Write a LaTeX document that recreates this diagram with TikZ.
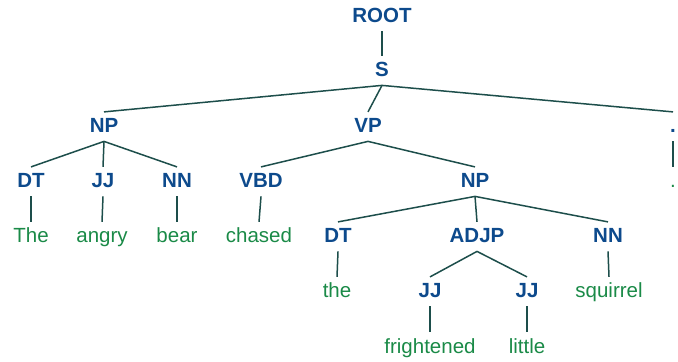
\documentclass[tikz,border=0pt]{standalone}
\usepackage{fontspec}
\setmainfont{Liberation Sans}
\usepackage{tikz}

\definecolor{labelblue}{HTML}{0D4A8C}
\definecolor{wordgreen}{HTML}{1A8A47}
\definecolor{edgeteal}{HTML}{1D4E4B}

\begin{document}
\begin{tikzpicture}[x=0.5pt, y=-0.5pt,
	every node/.style={anchor=base, inner xsep=0pt, inner ysep=3pt,
		text height=7.35pt, text depth=1pt, font=\fontsize{10.25}{12}\selectfont},
	cat node/.style={text=labelblue, font=\fontsize{10.25}{12}\selectfont\bfseries},
	word node/.style={text=wordgreen},
	tree edge/.style={draw=edgeteal, line width=0.75pt}]

	\useasboundingbox (0,0) rectangle (678,362);

	% categories
	\node[cat node] (root) at (382,23) {ROOT};
	\node[cat node] (s) at (382,77) {S};
	\node[cat node] (np) at (104,133) {NP};
	\node[cat node] (vp) at (368,133) {VP};
	\node[cat node] (punct) at (673,133) {.};
	\node[cat node] (dt) at (31,188) {DT};
	\node[cat node] (jj) at (103,188) {JJ};
	\node[cat node] (nn) at (177,188) {NN};
	\node[cat node] (vbd) at (261,188) {VBD};
	\node[cat node] (npobj) at (475,188) {NP};
	\node[cat node] (dtobj) at (338,243) {DT};
	\node[cat node] (adjp) at (477,243) {ADJP};
	\node[cat node] (nnobj) at (608,243) {NN};
	\node[cat node] (jja) at (430,298) {JJ};
	\node[cat node] (jjb) at (527,298) {JJ};

	% words
	\node[word node] (w1) at (31,243) {The};
	\node[word node] (w2) at (102,243) {angry};
	\node[word node] (w3) at (177,243) {bear};
	\node[word node] (w4) at (259,243) {chased};
	\node[word node] (w5) at (337,298) {the};
	\node[word node] (w6) at (430,353) {frightened};
	\node[word node] (w7) at (527,353) {little};
	\node[word node] (w8) at (609,298) {squirrel};
	\node[word node] (w9) at (673,188) {.};

	\path[tree edge]
	  (root.south) edge (s.north)
	  (s.south) edge (np.north)
	  (s.south) edge (vp.north)
	  (s.south) edge (punct.north)
	  (np.south) edge (dt.north)
	  (np.south) edge (jj.north)
	  (np.south) edge (nn.north)
	  (vp.south) edge (vbd.north)
	  (vp.south) edge (npobj.north)
	  (npobj.south) edge (dtobj.north)
	  (npobj.south) edge (adjp.north)
	  (npobj.south) edge (nnobj.north)
	  (adjp.south) edge (jja.north)
	  (adjp.south) edge (jjb.north)
	  (dt.south) edge (w1.north)
	  (jj.south) edge (w2.north)
	  (nn.south) edge (w3.north)
	  (vbd.south) edge (w4.north)
	  (dtobj.south) edge (w5.north)
	  (jja.south) edge (w6.north)
	  (jjb.south) edge (w7.north)
	  (nnobj.south) edge (w8.north)
	  (punct.south) edge (w9.north);

\end{tikzpicture}
\end{document}
